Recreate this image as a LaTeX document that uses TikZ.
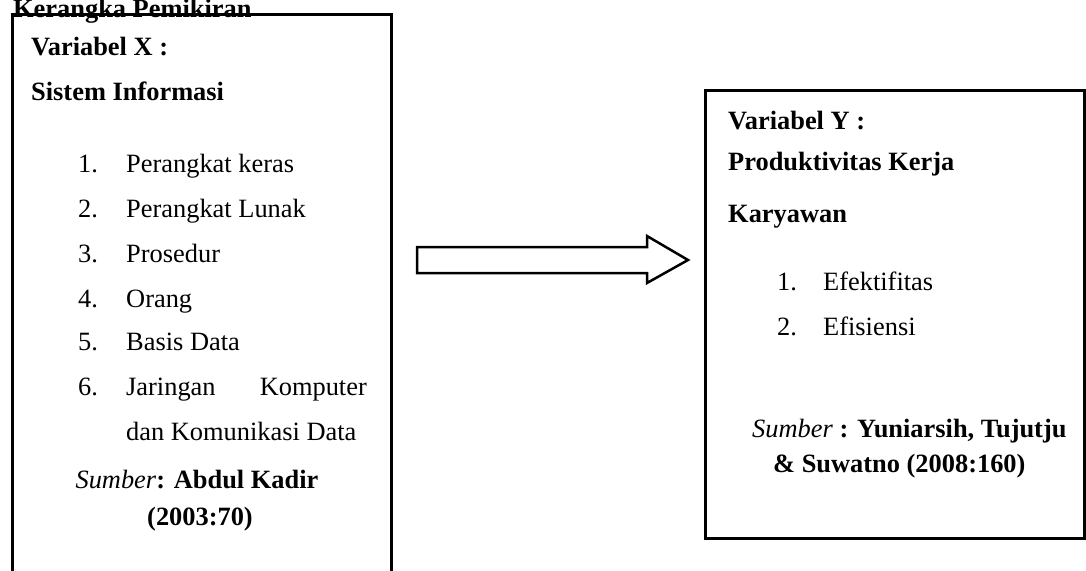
\documentclass[tikz,border=0pt]{standalone}
\usepackage{fontspec}
\setmainfont{Liberation Serif}
\tikzset{
    txt/.style={inner sep=0pt, anchor=base west, font=\fontsize{26.4}{30}\selectfont},
    txtc/.style={txt, anchor=base},
    kotak/.style={black, line width=3pt},
}
\begin{document}
\begin{tikzpicture}[x=1pt, y=-1pt]
        \useasboundingbox (0,0) rectangle (1086,570);
        \clip (0,0) rectangle (1086,570);
        \node[txt] (judul) at (13,17) {\textbf{Kerangka Pemikiran}};
        \draw[kotak] (12,14) rectangle (391,600);
        \draw[kotak] (705,90) rectangle (1084,538);
        \node[txt] (varx) at (31,55) {\textbf{Variabel X :}};
        \node[txt] (sisinfo) at (31,100) {\textbf{Sistem Informasi}};
        \foreach \n/\y/\t in {1/172/Perangkat keras, 2/217/Perangkat Lunak, 3/262/Prosedur, 4/307/Orang, 5/350/Basis Data, 6/395/Jaringan} {
                \node[txt] (nx\n) at (78,\y) {\n.};
                \node[txt] (ix\n) at (126,\y) {\t};
            }
        \node[txt, anchor=base east] (komp) at (367,395) {Komputer};
        \node[txt] (komdat) at (126,440) {dan Komunikasi Data};
        \node[txtc] (sumx) at (197,488) {\textit{Sumber}\textbf{: Abdul Kadir}};
        \node[txtc] (thnx) at (200,525) {\textbf{(2003:70)}};
        \node[txt] (vary) at (728,129) {\textbf{Variabel Y :}};
        \node[txt] (prod) at (728,170) {\textbf{Produktivitas Kerja}};
        \node[txt] (kary) at (728,222) {\textbf{Karyawan}};
        \foreach \n/\y/\t in {1/290/Efektifitas, 2/335/Efisiensi} {
                \node[txt] (ny\n) at (777,\y) {\n.};
                \node[txt] (iy\n) at (823,\y) {\t};
            }
        \node[txt] (sumy) at (752,437) {\textit{Sumber} \textbf{: Yuniarsih, Tujutju}};
        \node[txt] (thny) at (773,472) {\textbf{\& Suwatno (2008:160)}};
        \draw[black, line width=2.5pt, line join=miter] (417,247) -- (647,247) -- (647,236) -- (688,260) -- (647,283) -- (647,273) -- (417,273) -- cycle;
    \end{tikzpicture}
\end{document}
